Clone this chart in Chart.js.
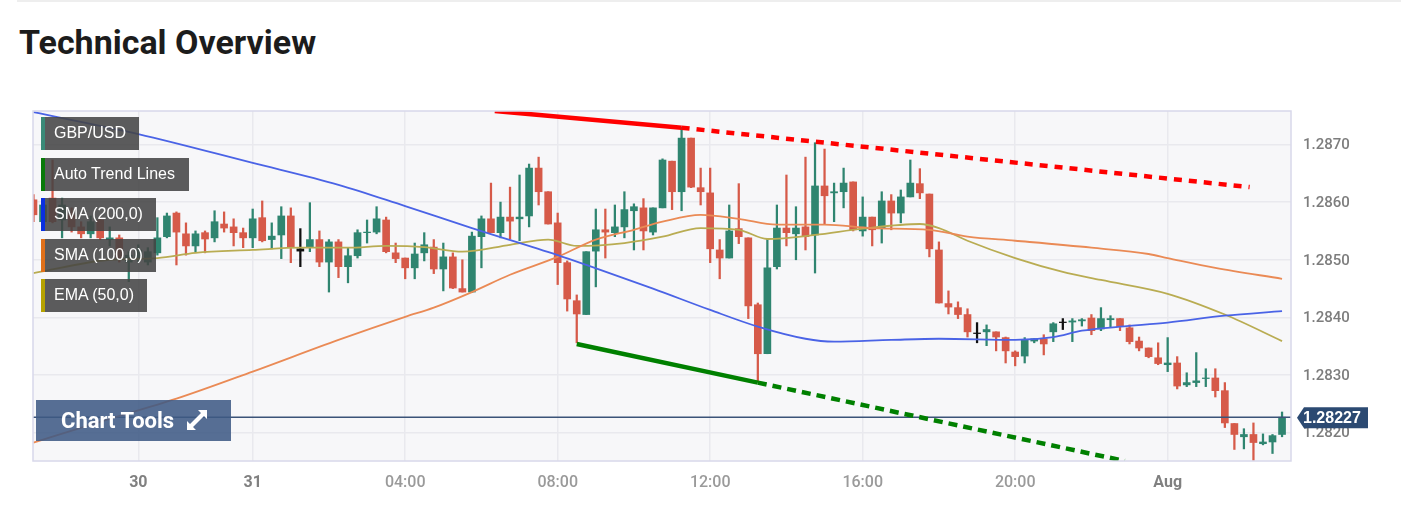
<!DOCTYPE html>
<html>
<head>
<meta charset="utf-8">
<title>Technical Overview</title>
<script src="https://cdn.jsdelivr.net/npm/chart.js@4"></script>
<style>
  html, body { margin: 0; padding: 0; background: #fff; }
  body { width: 1401px; height: 526px; position: relative; overflow: hidden; font-family: Roboto, sans-serif; }
  #rule { position: absolute; left: 17px; right: 0; top: 0; height: 2px; background: #eeeeee; }
  h2 { position: absolute; left: 19px; top: 21px; margin: 0; font: 700 34px/42px Roboto, sans-serif; color: #1c1c1c; }
  canvas { position: absolute; left: 0; top: 0; }
  .tag { position: absolute; left: 41px; height: 33px; box-sizing: border-box; padding-left: 9px;
         background: rgba(68, 68, 68, 0.87); color: #fff; font: 16px/32px "Liberation Sans", sans-serif; border-left: 4px solid; white-space: nowrap; }
  #tools { position: absolute; left: 36px; top: 400px; width: 195px; height: 41px; background: rgba(62, 90, 132, 0.87);
           color: #fff; font: 700 22px/41px Roboto, sans-serif; }
  #tools span { position: absolute; left: 25px; top: 0; }
  #tools svg { position: absolute; left: 150px; top: 9px; }
</style>
</head>
<body>
<div id="rule"></div>
<h2>Technical Overview</h2>
<canvas id="chart" width="1401" height="526"></canvas>
<div class="tag" style="top:117px;width:98px;border-color:#3a8a78">GBP/USD</div>
<div class="tag" style="top:158px;width:148px;border-color:#087a08">Auto Trend Lines</div>
<div class="tag" style="top:198px;width:115px;border-color:#0a2fe0">SMA (200,0)</div>
<div class="tag" style="top:239px;width:115px;border-color:#e0701a">SMA (100,0)</div>
<div class="tag" style="top:279px;width:106px;border-color:#b5a200">EMA (50,0)</div>
<div id="tools"><span>Chart Tools</span>
  <svg width="22" height="22" viewBox="0 0 22 22"><g fill="#fff">
    <path d="M12 1h9v9l-3-3-11 11 3 3H1v-9l3 3L15 4z"/>
  </g></svg>
</div>

<script>
// 15 min candles, x is the bar number (0 = oldest)
const opens = [
  1.28604, 1.28566, 1.28607, 1.28569, 1.28578, 1.28557, 1.28545, 1.28569, 1.28535, 1.28538,
  1.28496, 1.28503, 1.28496, 1.28512, 1.28540, 1.28581, 1.28545, 1.28524, 1.28547, 1.28538,
  1.28562, 1.28557, 1.28547, 1.28538, 1.28573, 1.28535, 1.28543, 1.28576, 1.28519, 1.28521,
  1.28535, 1.28496, 1.28531, 1.28488, 1.28507, 1.28547, 1.28548, 1.28569, 1.28512, 1.28503,
  1.28486, 1.28512, 1.28522, 1.28484, 1.28505, 1.28450, 1.28444, 1.28540, 1.28571, 1.28547,
  1.28574, 1.28571, 1.28576, 1.28659, 1.28618, 1.28564, 1.28495, 1.28429, 1.28405, 1.28515,
  1.28552, 1.28547, 1.28557, 1.28585, 1.28590, 1.28548, 1.28590, 1.28671, 1.28618, 1.28711,
  1.28625, 1.28616, 1.28517, 1.28503, 1.28554, 1.28538, 1.28422, 1.28337, 1.28488, 1.28555,
  1.28545, 1.28557, 1.28543, 1.28628, 1.28616, 1.28618, 1.28635, 1.28550, 1.28574, 1.28554,
  1.28602, 1.28581, 1.28609, 1.28632, 1.28614, 1.28517, 1.28424, 1.28417, 1.28405, 1.28373,
  1.28375, 1.28375, 1.28365, 1.28340, 1.28333, 1.28359, 1.28363, 1.28375, 1.28392, 1.28392,
  1.28394, 1.28399, 1.28380, 1.28396, 1.28398, 1.28382, 1.28359, 1.28347, 1.28330, 1.28318,
  1.28321, 1.28283, 1.28287, 1.28294, 1.28295, 1.28273, 1.28216, 1.28193, 1.28197, 1.28181,
  1.28184, 1.28197
];
const closes = [
  1.28578, 1.28595, 1.28566, 1.28595, 1.28557, 1.28545, 1.28566, 1.28538, 1.28538, 1.28503,
  1.28508, 1.28517, 1.28514, 1.28538, 1.28576, 1.28548, 1.28524, 1.28545, 1.28536, 1.28566,
  1.28555, 1.28547, 1.28538, 1.28571, 1.28533, 1.28541, 1.28576, 1.28521, 1.28515, 1.28535,
  1.28496, 1.28531, 1.28488, 1.28507, 1.28547, 1.28548, 1.28571, 1.28514, 1.28502, 1.28486,
  1.28510, 1.28526, 1.28484, 1.28505, 1.28451, 1.28444, 1.28541, 1.28571, 1.28547, 1.28574,
  1.28567, 1.28574, 1.28659, 1.28618, 1.28562, 1.28495, 1.28432, 1.28406, 1.28514, 1.28552,
  1.28548, 1.28557, 1.28587, 1.28592, 1.28550, 1.28590, 1.28673, 1.28618, 1.28711, 1.28626,
  1.28618, 1.28519, 1.28503, 1.28550, 1.28540, 1.28420, 1.28337, 1.28486, 1.28555, 1.28547,
  1.28555, 1.28540, 1.28628, 1.28611, 1.28618, 1.28633, 1.28552, 1.28574, 1.28552, 1.28602,
  1.28581, 1.28609, 1.28633, 1.28616, 1.28519, 1.28425, 1.28418, 1.28405, 1.28375, 1.28372,
  1.28379, 1.28366, 1.28342, 1.28332, 1.28361, 1.28363, 1.28354, 1.28389, 1.28391, 1.28394,
  1.28396, 1.28377, 1.28398, 1.28398, 1.28384, 1.28358, 1.28347, 1.28332, 1.28320, 1.28321,
  1.28281, 1.28287, 1.28290, 1.28295, 1.28273, 1.28217, 1.28197, 1.28197, 1.28183, 1.28184,
  1.28195, 1.28227
];
const highs = [
  1.28613, 1.28604, 1.28673, 1.28607, 1.28590, 1.28566, 1.28576, 1.28573, 1.28557, 1.28543,
  1.28514, 1.28526, 1.28521, 1.28573, 1.28581, 1.28583, 1.28564, 1.28550, 1.28550, 1.28585,
  1.28583, 1.28571, 1.28555, 1.28588, 1.28602, 1.28564, 1.28592, 1.28590, 1.28554, 1.28599,
  1.28550, 1.28535, 1.28535, 1.28521, 1.28552, 1.28569, 1.28592, 1.28574, 1.28529, 1.28503,
  1.28529, 1.28547, 1.28535, 1.28529, 1.28512, 1.28500, 1.28548, 1.28576, 1.28633, 1.28600,
  1.28626, 1.28647, 1.28666, 1.28678, 1.28618, 1.28581, 1.28498, 1.28439, 1.28514, 1.28588,
  1.28588, 1.28595, 1.28618, 1.28597, 1.28606, 1.28590, 1.28675, 1.28671, 1.28730, 1.28711,
  1.28659, 1.28659, 1.28535, 1.28595, 1.28632, 1.28538, 1.28425, 1.28536, 1.28595, 1.28647,
  1.28592, 1.28678, 1.28703, 1.28692, 1.28633, 1.28659, 1.28635, 1.28609, 1.28574, 1.28618,
  1.28613, 1.28621, 1.28673, 1.28658, 1.28614, 1.28531, 1.28446, 1.28427, 1.28415, 1.28391,
  1.28387, 1.28375, 1.28366, 1.28342, 1.28365, 1.28363, 1.28370, 1.28391, 1.28398, 1.28398,
  1.28398, 1.28405, 1.28417, 1.28403, 1.28398, 1.28387, 1.28366, 1.28347, 1.28356, 1.28365,
  1.28332, 1.28304, 1.28339, 1.28311, 1.28311, 1.28287, 1.28216, 1.28207, 1.28217, 1.28198,
  1.28197, 1.28236
];
const lows = [
  1.28566, 1.28555, 1.28564, 1.28538, 1.28548, 1.28538, 1.28538, 1.28535, 1.28524, 1.28496,
  1.28462, 1.28496, 1.28491, 1.28508, 1.28538, 1.28491, 1.28508, 1.28514, 1.28512, 1.28531,
  1.28548, 1.28524, 1.28521, 1.28521, 1.28531, 1.28519, 1.28502, 1.28495, 1.28488, 1.28514,
  1.28488, 1.28444, 1.28469, 1.28460, 1.28503, 1.28529, 1.28545, 1.28512, 1.28495, 1.28467,
  1.28467, 1.28498, 1.28476, 1.28446, 1.28450, 1.28444, 1.28443, 1.28486, 1.28547, 1.28538,
  1.28536, 1.28533, 1.28557, 1.28595, 1.28562, 1.28457, 1.28411, 1.28356, 1.28405, 1.28453,
  1.28503, 1.28540, 1.28538, 1.28517, 1.28517, 1.28543, 1.28590, 1.28587, 1.28585, 1.28625,
  1.28595, 1.28495, 1.28467, 1.28503, 1.28528, 1.28398, 1.28288, 1.28337, 1.28484, 1.28524,
  1.28500, 1.28517, 1.28477, 1.28562, 1.28566, 1.28590, 1.28550, 1.28541, 1.28524, 1.28529,
  1.28552, 1.28564, 1.28609, 1.28606, 1.28505, 1.28425, 1.28406, 1.28398, 1.28366, 1.28356,
  1.28351, 1.28342, 1.28321, 1.28316, 1.28321, 1.28356, 1.28335, 1.28358, 1.28379, 1.28358,
  1.28385, 1.28370, 1.28377, 1.28384, 1.28377, 1.28354, 1.28342, 1.28330, 1.28318, 1.28306,
  1.28276, 1.28280, 1.28280, 1.28280, 1.28262, 1.28209, 1.28171, 1.28172, 1.28152, 1.28179,
  1.28164, 1.28193
];
const blackBars = [28, 99, 108];

const sma200Bars = [0, 11, 23, 32, 39, 46, 55, 58, 65, 71, 76, 81, 84, 90, 95, 103, 107, 110, 114, 119, 125, 131];
const sma200 = [1.28756, 1.28718, 1.28668, 1.2863, 1.28593, 1.28555, 1.28508, 1.28491, 1.2845, 1.28413, 1.28384,
  1.28363, 1.28358, 1.28361, 1.28363, 1.28361, 1.28366, 1.28377, 1.28384, 1.28391, 1.28403, 1.28411];

const sma100Bars = [0, 7, 15, 23, 32, 39, 42, 46, 50, 55, 59, 63, 66, 70, 74, 78, 83, 88, 94, 98, 103, 111, 117, 119, 124, 131];
const sma100 = [1.28183, 1.28219, 1.28259, 1.28306, 1.28361, 1.28401, 1.28417, 1.28444, 1.28474, 1.28505, 1.28535,
  1.28552, 1.28566, 1.28578, 1.28571, 1.28561, 1.28561, 1.28555, 1.28552, 1.2854, 1.28533, 1.28521, 1.2851, 1.28503,
  1.28486, 1.28467];

const ema50Bars = [0, 8, 13, 17, 23, 28, 33, 37, 41, 45, 50, 54, 57, 62, 66, 70, 74, 77, 82, 87, 93, 95, 98, 103, 108, 112, 119, 125, 131];
const ema50 = [1.28477, 1.285, 1.28503, 1.28512, 1.28517, 1.28521, 1.28521, 1.28524, 1.28522, 1.28514, 1.28526,
  1.28535, 1.28524, 1.28529, 1.2854, 1.28555, 1.28552, 1.28536, 1.28543, 1.28554, 1.28562, 1.28555, 1.28533,
  1.28503, 1.28479, 1.28465, 1.28441, 1.28405, 1.28359];

// auto trend lines
const redSolidBars = [48.4, 68];
const redSolid = [1.28758, 1.28729];
const redDashBars = [68, 127.6];
const redDash = [1.28729, 1.28626];
const greenSolidBars = [57, 76];
const greenSolid = [1.28354, 1.28287];
const greenDashBars = [76, 114.5];
const greenDash = [1.28287, 1.28151];

const lastPrice = 1.28227;
const priceTicks = [1.282, 1.283, 1.284, 1.285, 1.286, 1.287];
const timeTicks = [11, 23, 39, 55, 71, 87, 103, 119];
const timeLabels = ['30', '31', '04:00', '08:00', '12:00', '16:00', '20:00', 'Aug'];
const boldLabels = ['30', '31', 'Aug'];

const UP = '#2f8570';
const DOWN = '#d65a49';
const barColors = opens.map((o, i) => blackBars.includes(i) ? '#111111' : (closes[i] >= o ? UP : DOWN));
const bars = opens.map((_, i) => i);

const points = (xs, ys) => xs.map((x, k) => ({ x: x, y: ys[k] }));

function lineSet(xs, ys, color, width, order, dash, smooth) {
  return {
    type: 'line',
    data: points(xs, ys),
    borderColor: color,
    borderWidth: width,
    borderDash: dash || [],
    pointRadius: 0,
    cubicInterpolationMode: smooth ? 'monotone' : 'default',
    order: order
  };
}

// plot background + top/left frame
const frame = {
  id: 'frame',
  beforeDraw(chart) {
    const a = chart.chartArea, c = chart.ctx;
    c.save();
    c.fillStyle = '#f7f7f9';
    c.fillRect(a.left, a.top, a.right - a.left, a.bottom - a.top);
    c.restore();
  },
  afterDatasetsDraw(chart) {
    const a = chart.chartArea, c = chart.ctx;
    c.save();
    c.strokeStyle = '#d8d8ea';
    c.lineWidth = 1.5;
    c.strokeRect(a.left, a.top, a.right - a.left, a.bottom - a.top);
    c.restore();
  }
};

// last price flag on the right axis
const priceFlag = {
  id: 'priceFlag',
  afterDraw(chart) {
    const c = chart.ctx;
    const y = chart.scales.y.getPixelForValue(lastPrice);
    c.save();
    c.fillStyle = '#2c4a72';
    c.beginPath();
    c.moveTo(1297, y + 0.5);
    c.lineTo(1304, y - 10);
    c.lineTo(1368, y - 10);
    c.lineTo(1368, y + 11);
    c.lineTo(1304, y + 11);
    c.closePath();
    c.fill();
    c.fillStyle = '#fff';
    c.font = '700 16px "Liberation Sans", sans-serif';
    c.textBaseline = 'middle';
    c.fillText(lastPrice.toFixed(5), 1303, y + 1);
    c.restore();
  }
};

new Chart(document.getElementById('chart').getContext('2d'), {
  type: 'bar',
  data: {
    datasets: [
      lineSet(greenSolidBars, greenSolid, '#008000', 4.5, 1),
      lineSet(greenDashBars, greenDash, '#008000', 4.5, 1, [9, 6]),
      lineSet(redSolidBars, redSolid, '#ff0000', 4.5, 1),
      lineSet(redDashBars, redDash, '#ff0000', 4.5, 1, [8, 7]),
      lineSet(sma200Bars, sma200, '#4a63e6', 1.8, 2, null, true),
      lineSet(sma100Bars, sma100, '#ea8a55', 1.8, 2, null, true),
      lineSet(ema50Bars, ema50, '#b9ac52', 1.8, 2, null, true),
      lineSet([-0.05, 131.94], [lastPrice, lastPrice], '#3b5378', 1.4, 3),
      {
        data: bars.map(i => ({ x: i, y: [Math.min(opens[i], closes[i]), Math.max(opens[i], closes[i])] })),
        backgroundColor: barColors,
        barThickness: 7,
        grouped: false,
        order: 4
      },
      {
        data: bars.map(i => ({ x: i, y: [lows[i], highs[i]] })),
        backgroundColor: barColors,
        barThickness: 1.6,
        grouped: false,
        order: 5
      }
    ]
  },
  options: {
    responsive: false,
    animation: false,
    events: [],
    layout: { padding: { left: 33, top: 111, right: 0, bottom: 0 } },
    plugins: { legend: { display: false }, tooltip: { enabled: false } },
    scales: {
      x: {
        type: 'linear',
        min: -0.05,
        max: 131.94,
        offset: false,
        afterBuildTicks: axis => { axis.ticks = timeTicks.map(v => ({ value: v })); },
        afterFit: axis => { axis.height = 65; },
        grid: { color: '#e9e9ee', lineWidth: 1.5, drawTicks: false, offset: false },
        border: { display: false },
        ticks: {
          autoSkip: false,
          maxRotation: 0,
          padding: 12,
          color: ctx => boldLabels.includes(timeLabels[ctx.index]) ? '#808080' : '#9a9a9a',
          font: ctx => ({
            family: 'Roboto, sans-serif',
            size: 16,
            weight: boldLabels.includes(timeLabels[ctx.index]) ? '700' : '500'
          }),
          callback: value => timeLabels[timeTicks.indexOf(value)]
        }
      },
      y: {
        position: 'right',
        min: 1.28151,
        max: 1.28758,
        afterBuildTicks: axis => { axis.ticks = priceTicks.map(v => ({ value: v })); },
        afterFit: axis => { axis.width = 110; },
        grid: { color: '#e9e9ee', lineWidth: 1.5, drawTicks: false },
        border: { display: false },
        ticks: {
          padding: 12,
          labelOffset: 1,
          color: '#7d7d7d',
          font: { family: 'Roboto, sans-serif', size: 15, weight: '500' },
          callback: value => value.toFixed(4)
        }
      }
    }
  },
  plugins: [frame, priceFlag]
});
</script>
</body>
</html>
